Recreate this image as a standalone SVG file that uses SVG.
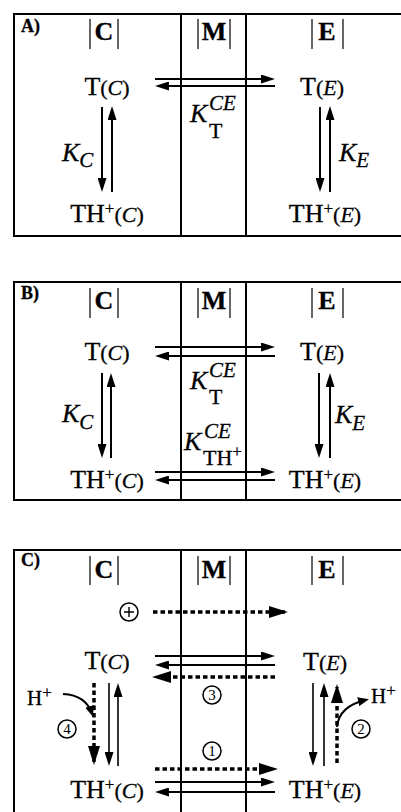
<svg xmlns="http://www.w3.org/2000/svg" width="401" height="812" viewBox="0 0 401 812">
<style>
.box{fill:none;stroke:#000;stroke-width:2}
.sep{stroke:#000;stroke-width:2}
.bar{stroke:#000;stroke-width:1.2}
text{font-family:"Liberation Serif","Times New Roman",serif;fill:#000;stroke:#000;stroke-width:0.3}
.hdr{font-size:26px;font-weight:bold;text-anchor:middle}
.lab{font-size:18px;font-weight:bold}
.sp{font-size:26px;text-anchor:middle}
.par{font-size:22px}
.it{font-style:italic}
.sup{font-size:17px}
.K{font-size:26px;font-style:italic}
.sub{font-size:21px;font-style:italic}
.subr{font-size:22px;font-style:normal}
.num{font-size:15px;text-anchor:middle;stroke-width:0}
.arr{stroke:#000;stroke-width:2;fill:none;marker-end:url(#ah)}
.arr2{stroke:#000;stroke-width:1.6;fill:none;marker-end:url(#ah)}
.dot{stroke:#000;stroke-width:3.5;stroke-dasharray:4.5 3;fill:none;marker-end:url(#dh)}
.crv{stroke:#000;stroke-width:2;fill:none;marker-end:url(#ch)}
.circ{fill:#fff;stroke:#000;stroke-width:1.5}
</style>
<defs>
<marker id="ah" markerUnits="userSpaceOnUse" markerWidth="14" markerHeight="9" refX="11" refY="4.5" orient="auto"><path d="M0,0 L14,4.5 L0,9 z" fill="#000"/></marker>
<marker id="dh" markerUnits="userSpaceOnUse" markerWidth="19" markerHeight="12" refX="16" refY="6" orient="auto"><path d="M0,0 L19,6 L0,12 z" fill="#000"/></marker>
<marker id="ch" markerUnits="userSpaceOnUse" markerWidth="11" markerHeight="9" refX="8" refY="4.5" orient="auto"><path d="M0,0 L11,4.5 L0,9 z" fill="#000"/></marker>
</defs>

<!-- Panel frames -->
<g id="frames">
<path class="box" d="M401,14 H14 V236 H401"/>
<line class="sep" x1="181" y1="14" x2="181" y2="236"/>
<line class="sep" x1="246" y1="14" x2="246" y2="236"/>
<path class="box" d="M401,282 H14 V500 H401"/>
<line class="sep" x1="181" y1="282" x2="181" y2="500"/>
<line class="sep" x1="246" y1="282" x2="246" y2="500"/>
<path class="box" d="M401,550 H14 V812"/>
<line class="sep" x1="181" y1="550" x2="181" y2="812"/>
<line class="sep" x1="246" y1="550" x2="246" y2="812"/>
</g>

<!-- Headers -->
<g id="headers">
<text class="lab" x="21" y="32">A)</text>
<text class="lab" x="21" y="299">B)</text>
<text class="lab" x="21" y="566">C)</text>
<g id="hdrA">
<text class="hdr" x="104" y="40">C</text><line class="bar" x1="90" y1="19" x2="90" y2="49"/><line class="bar" x1="118" y1="19" x2="118" y2="49"/>
<text class="hdr" x="214" y="40">M</text><line class="bar" x1="198" y1="19" x2="198" y2="49"/><line class="bar" x1="230" y1="19" x2="230" y2="49"/>
<text class="hdr" x="327" y="40">E</text><line class="bar" x1="312" y1="19" x2="312" y2="49"/><line class="bar" x1="343" y1="19" x2="343" y2="49"/>
</g>
<g id="hdrB">
<text class="hdr" x="104" y="309">C</text><line class="bar" x1="90" y1="288" x2="90" y2="318"/><line class="bar" x1="118" y1="288" x2="118" y2="318"/>
<text class="hdr" x="214" y="309">M</text><line class="bar" x1="198" y1="288" x2="198" y2="318"/><line class="bar" x1="230" y1="288" x2="230" y2="318"/>
<text class="hdr" x="327" y="309">E</text><line class="bar" x1="312" y1="288" x2="312" y2="318"/><line class="bar" x1="343" y1="288" x2="343" y2="318"/>
</g>
<g id="hdrC">
<text class="hdr" x="104" y="578">C</text><line class="bar" x1="90" y1="556" x2="90" y2="585"/><line class="bar" x1="118" y1="556" x2="118" y2="585"/>
<text class="hdr" x="214" y="578">M</text><line class="bar" x1="198" y1="556" x2="198" y2="585"/><line class="bar" x1="230" y1="556" x2="230" y2="585"/>
<text class="hdr" x="327" y="578">E</text><line class="bar" x1="312" y1="556" x2="312" y2="585"/><line class="bar" x1="343" y1="556" x2="343" y2="585"/>
</g>
</g>

<!-- Species nodes -->
<g id="A_TC"><text class="sp" x="107" y="95">T<tspan class="par">(<tspan class="it">C</tspan>)</tspan></text></g>
<g id="A_TE"><text class="sp" x="322" y="95">T<tspan class="par">(<tspan class="it">E</tspan>)</tspan></text></g>
<g id="A_THC"><text class="sp" x="107" y="222">TH<tspan class="sup" dy="-8">+</tspan><tspan class="par" dy="8">(<tspan class="it">C</tspan>)</tspan></text></g>
<g id="A_THE"><text class="sp" x="325" y="222">TH<tspan class="sup" dy="-8">+</tspan><tspan class="par" dy="8">(<tspan class="it">E</tspan>)</tspan></text></g>

<g id="B_TC"><text class="sp" x="107" y="360">T<tspan class="par">(<tspan class="it">C</tspan>)</tspan></text></g>
<g id="B_TE"><text class="sp" x="322" y="360">T<tspan class="par">(<tspan class="it">E</tspan>)</tspan></text></g>
<g id="B_THC"><text class="sp" x="107" y="488">TH<tspan class="sup" dy="-8">+</tspan><tspan class="par" dy="8">(<tspan class="it">C</tspan>)</tspan></text></g>
<g id="B_THE"><text class="sp" x="325" y="488">TH<tspan class="sup" dy="-8">+</tspan><tspan class="par" dy="8">(<tspan class="it">E</tspan>)</tspan></text></g>

<g id="C_TC"><text class="sp" x="107" y="669">T<tspan class="par">(<tspan class="it">C</tspan>)</tspan></text></g>
<g id="C_TE"><text class="sp" x="325" y="670">T<tspan class="par">(<tspan class="it">E</tspan>)</tspan></text></g>
<g id="C_THC"><text class="sp" x="107" y="798">TH<tspan class="sup" dy="-8">+</tspan><tspan class="par" dy="8">(<tspan class="it">C</tspan>)</tspan></text></g>
<g id="C_THE"><text class="sp" x="325" y="798">TH<tspan class="sup" dy="-8">+</tspan><tspan class="par" dy="8">(<tspan class="it">E</tspan>)</tspan></text></g>

<!-- Constant labels -->
<g id="labels">
<text class="K" x="62" y="161">K<tspan class="sub" dy="6">C</tspan></text>
<text class="K" x="339" y="161">K<tspan class="sub" dy="6">E</tspan></text>
<text class="K" x="190" y="122">K</text><text class="sub" x="209" y="110">CE</text><text class="subr" x="209" y="138">T</text>

<text class="K" x="62" y="422">K<tspan class="sub" dy="7">C</tspan></text>
<text class="K" x="335" y="423">K<tspan class="sub" dy="7">E</tspan></text>
<text class="K" x="190" y="389">K</text><text class="sub" x="209" y="377">CE</text><text class="subr" x="209" y="404">T</text>
<text class="K" x="184" y="450">K</text><text class="sub" x="204" y="438">CE</text><text class="subr" x="203" y="465">TH<tspan class="sup" dy="-8" font-size="14">+</tspan></text>

<text style="font-size:21px" x="27" y="705">H<tspan class="sup" dy="-7">+</tspan></text>
<text style="font-size:21px" x="371" y="703">H<tspan class="sup" dy="-7">+</tspan></text>
</g>

<!-- Circled markers -->
<g id="plus"><circle class="circ" cx="129" cy="612" r="9"/><path d="M124,612 H134 M129,607 V617" stroke="#000" stroke-width="1.4"/></g>
<g id="n3"><circle class="circ" cx="212" cy="695" r="9"/><text class="num" x="212" y="700">3</text></g>
<g id="n1"><circle class="circ" cx="212" cy="751" r="9"/><text class="num" x="212" y="756">1</text></g>
<g id="n4"><circle class="circ" cx="67" cy="729" r="9"/><text class="num" x="67" y="734">4</text></g>
<g id="n2"><circle class="circ" cx="361" cy="729" r="9"/><text class="num" x="361" y="734">2</text></g>

<!-- Connectors -->
<g id="connectors">
<!-- A -->
<path class="arr" d="M155,79 H272"/>
<path class="arr" d="M275,86 H158"/>
<path class="arr" d="M102,107 V189"/>
<path class="arr" d="M112,192 V109"/>
<path class="arr" d="M320,107 V189"/>
<path class="arr" d="M330,192 V109"/>
<!-- B -->
<path class="arr" d="M155,347 H272"/>
<path class="arr" d="M275,356 H158"/>
<path class="arr" d="M155,472 H272"/>
<path class="arr" d="M275,480 H158"/>
<path class="arr" d="M102,373 V455"/>
<path class="arr" d="M111,458 V376"/>
<path class="arr" d="M319,373 V455"/>
<path class="arr" d="M330,458 V376"/>
<!-- C -->
<path class="dot" d="M153,612 H285"/>
<path class="arr" d="M155,656 H272"/>
<path class="arr" d="M275,665 H158"/>
<path class="dot" d="M275,677 H155"/>
<path class="dot" d="M155,769 H275"/>
<path class="arr" d="M155,782 H272"/>
<path class="arr" d="M275,792 H158"/>
<path class="dot" d="M94,683 V762"/>
<path class="arr2" d="M109,683 V763"/>
<path class="arr2" d="M118,766 V686"/>
<path class="arr2" d="M313,683 V763"/>
<path class="arr2" d="M324,766 V686"/>
<path class="dot" d="M337,763 V687"/>
<path class="crv" d="M63,694 Q86,695 92,714"/>
<path class="crv" d="M337,727 Q339,706 366,700"/>
</g>
</svg>
